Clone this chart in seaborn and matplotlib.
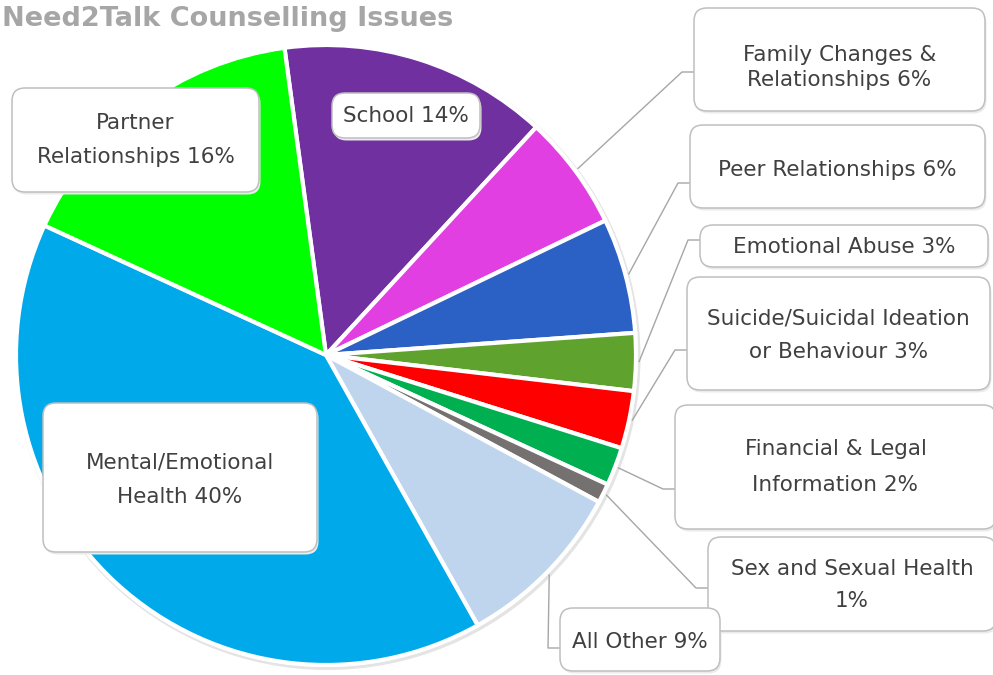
import matplotlib
matplotlib.use("Agg")
import matplotlib.pyplot as plt
from matplotlib.patches import FancyBboxPatch, Circle
import numpy as np
import seaborn as sns

# Counselling issue shares (percent), clockwise from the top of the pie
issues = [
    "School",
    "Family Changes &\nRelationships",
    "Peer Relationships",
    "Emotional Abuse",
    "Suicide/Suicidal Ideation\nor Behaviour",
    "Financial & Legal\nInformation",
    "Sex and Sexual Health\n",
    "All Other",
    "Mental/Emotional\nHealth",
    "Partner\nRelationships",
]
shares = [14, 6, 6, 3, 3, 2, 1, 9, 40, 16]
colors = ["#7030A0", "#E23FE2", "#2B60C4", "#5FA32E", "#FF0000",
          "#00B050", "#767171", "#BFD5EE", "#00A9E9", "#00FF00"]
title = "Need2Talk Counselling Issues"

sns.set_theme(style="white")
plt.rcParams["font.family"] = ["DejaVu Sans"]

W, H = 993, 675
fig = plt.figure(figsize=(W / 100, H / 100), dpi=100)
ax = fig.add_axes([0, 0, 1, 1])

# pie geometry in pixel units (y measured upward)
cx, cy, R = 326, H - 355, 310

# soft rim shadow behind the pie
ax.add_patch(Circle((cx + 1.5, cy - 2), R + 3, facecolor="#e4e4e4",
                    edgecolor="none", zorder=0))
ax.add_patch(Circle((cx, cy), R + 2, facecolor="white",
                    edgecolor="none", zorder=0.5))

wedges, _ = ax.pie(
    shares, colors=colors, startangle=97.7, counterclock=False,
    center=(cx, cy), radius=R,
    wedgeprops=dict(edgecolor="white", linewidth=3),
)
for w in wedges:
    w.set_zorder(1)

ax.set_xlim(0, W)
ax.set_ylim(0, H)
ax.set_aspect("equal")
ax.axis("off")

# label boxes: (left, top, right, bottom) in top-down pixels,
# leader line height at the box edge (None = label sits on the slice),
# line spacing of the label text and its downward shift inside the box
boxes = [
    ((332, 93, 480, 138), None, 1.2, 0),
    ((694, 8, 985, 111), 72, 1.37, 8),
    ((690, 125, 985, 208), 183, 1.2, 3),
    ((700, 225, 988, 267), 240, 1.2, 1),
    ((687, 277, 990, 390), 350, 1.86, 2),
    ((675, 405, 996, 529), 489, 1.95, 0),
    ((708, 537, 996, 631), 588, 1.8, 1),
    ((560, 608, 720, 671), 648, 1.2, 2),
    ((43, 403, 317, 552), None, 1.93, 2),
    ((12, 88, 259, 192), None, 1.88, 0),
]

text_color = "#404040"
line_color = "#a6a6a6"

for name, share, w, (box, anchor_y, lsp, dy) in zip(issues, shares, wedges, boxes):
    x0, t, x1, b = box
    y0, y1 = H - b, H - t
    ax.add_patch(FancyBboxPatch(
        (x0 + 1.5, y0 - 2.5), x1 - x0, y1 - y0,
        boxstyle="round,pad=0,rounding_size=13",
        facecolor="#ebebeb", edgecolor="none", zorder=2))
    ax.add_patch(FancyBboxPatch(
        (x0, y0), x1 - x0, y1 - y0,
        boxstyle="round,pad=0,rounding_size=13",
        facecolor="white", edgecolor="#bfbfbf", linewidth=1.1, zorder=3))
    label = f"{name}{share}%" if name.endswith("\n") else f"{name} {share}%"
    ax.text((x0 + x1) / 2, (y0 + y1) / 2 - dy, label, ha="center",
            va="center", fontsize=15.5, color=text_color, linespacing=lsp,
            zorder=4)
    if anchor_y is not None:
        mid = np.deg2rad((w.theta1 + w.theta2) / 2)
        px, py = cx + (R + 3) * np.cos(mid), cy + (R + 3) * np.sin(mid)
        ay = H - anchor_y
        ax.plot([x0, x0 - 12, px], [ay, ay, py], color=line_color,
                linewidth=1.0, zorder=1.5, solid_capstyle="butt")

ax.text(453, H - 19, title, ha="right", va="center", fontsize=19.5,
        fontweight="bold", color="#a6a6a6", zorder=5)

fig.savefig("out.png", dpi=100, facecolor="white")
